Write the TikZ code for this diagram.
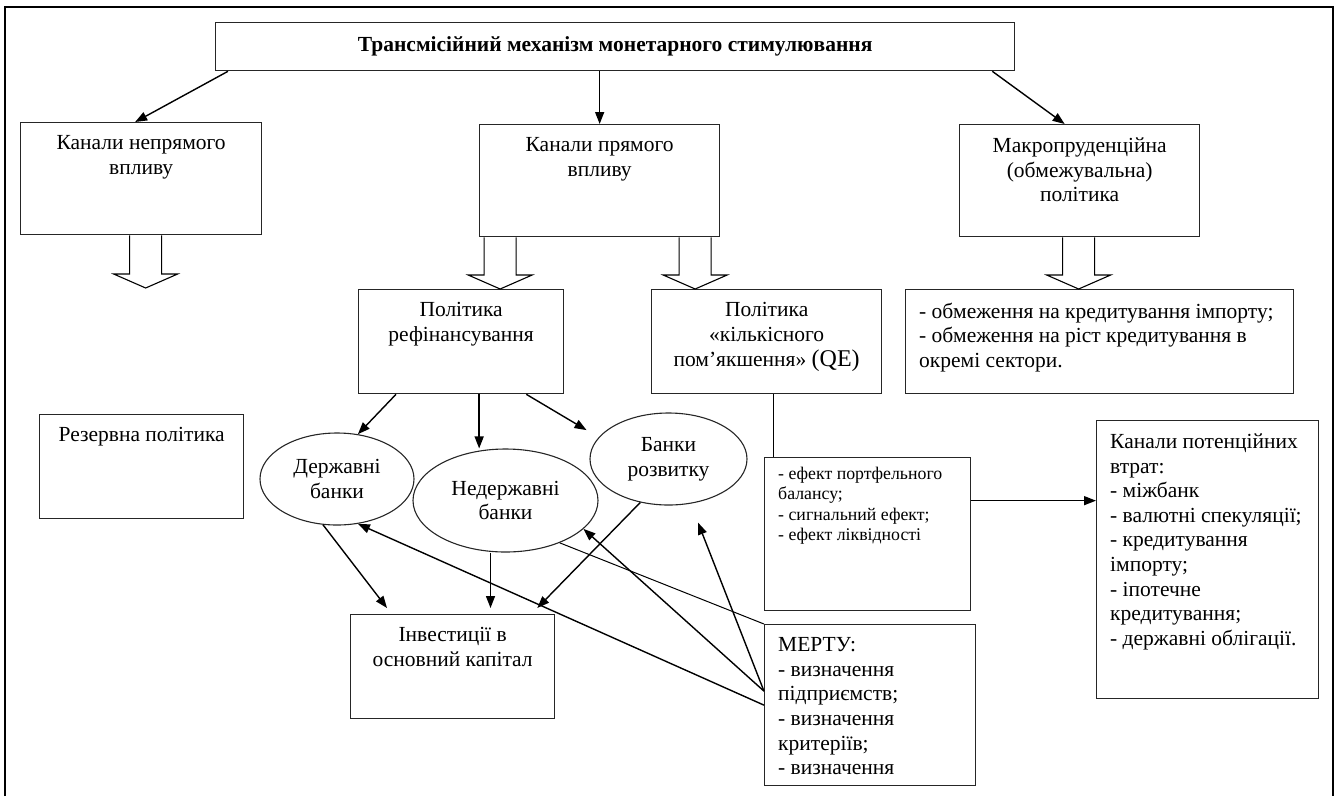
\documentclass[tikz,border=0pt]{standalone}
\usepackage{fontspec}
\setmainfont{Liberation Serif}
\usetikzlibrary{arrows.meta,shapes.geometric}

\begin{document}
\begin{tikzpicture}[x=1pt, y=1pt, >={Triangle[length=12pt, width=9pt]},
	every node/.style={font=\fontsize{21.5}{24.6}\selectfont},
	box/.style={draw=black!85, line width=1.3pt, inner sep=0pt, anchor=north west},
	bank/.style={draw=black!85, line width=1.1pt, ellipse, inner sep=0pt, align=center},
	mid/.style={label={[anchor=north, align=center, inner sep=0pt, yshift=-13.5pt]north:{#1}}},
	lft/.style={label={[anchor=north west, align=left, inner sep=0pt, xshift=14pt, yshift=-13.5pt]north west:{#1}}},
	note/.style={label={[anchor=north west, align=left, inner sep=0pt, xshift=14pt, yshift=-9.5pt, font=\fontsize{17.8}{20.5}\selectfont]north west:{#1}}},
	link/.style={->, line width=1.4pt}]
	\useasboundingbox (0,0) rectangle (1336,-796);
	\draw[line width=2.5pt] (5,-796) -- (5,-7) -- (1333,-7) -- (1333,-796);
	% boxes
	\node[box, minimum width=799pt, minimum height=48pt, font=\bfseries\fontsize{21.5}{24.6}\selectfont] (title) at (215,-22) {Трансмісійний механізм монетарного стимулювання};
	\node[box, minimum width=241pt, minimum height=112pt, mid={Канали непрямого\\впливу}] (indirect) at (20,-122) {};
	\node[box, minimum width=240pt, minimum height=112pt, mid={Канали прямого\\впливу}] (direct) at (479,-124) {};
	\node[box, minimum width=240pt, minimum height=112pt, mid={Макропруденційна\\(обмежувальна)\\політика}] (macro) at (959,-124) {};
	\node[box, minimum width=205pt, minimum height=104pt, mid={Політика\\рефінансування}] (refin) at (358,-289) {};
	\node[box, minimum width=230pt, minimum height=104pt, mid={Політика\\«кількісного\\пом’якшення» {\fontsize{24}{25}\selectfont(QE)}}] (qe) at (651,-289) {};
	\node[box, minimum width=388pt, minimum height=104pt, lft={- обмеження на кредитування імпорту;\\- обмеження на ріст кредитування в\\окремі сектори.}] (restr) at (905,-289) {};
	\node[box, minimum width=204pt, minimum height=104pt, mid={Резервна політика}] (reserve) at (39,-414) {};
	\node[box, minimum width=204pt, minimum height=104pt, mid={Інвестиції в\\основний капітал}] (invest) at (350,-614) {};
	\node[box, minimum width=206pt, minimum height=153pt, note={- ефект портфельного\\балансу;\\- сигнальний ефект;\\- ефект ліквідності}] (effects) at (764,-457) {};
	\node[box, minimum width=222pt, minimum height=278pt, lft={Канали потенційних\\втрат:\\- міжбанк\\- валютні спекуляції;\\- кредитування\\імпорту;\\- іпотечне\\кредитування;\\- державні облігації.}] (potential) at (1096,-420) {};
	\node[box, minimum width=211pt, minimum height=161pt, lft={МЕРТУ:\\- визначення\\підприємств;\\- визначення\\критеріїв;\\- визначення}] (mertu) at (764,-624) {};
	% banks
	\node[bank, minimum width=154pt, minimum height=92pt] (state) at (337,-479) {Державні\\банки};
	\node[bank, minimum width=185pt, minimum height=103pt] (nonstate) at (505.5,-500.5) {Недержавні\\банки};
	\node[bank, minimum width=157pt, minimum height=92pt] (dev) at (668.5,-459) {Банки\\розвитку};
	% block arrows
	\coordinate (gap) at (145,-288);
	\foreach \src/\dst/\dx in {indirect/gap/4.5, direct/refin.north/-99.5, direct/qe.north/95.5, macro/restr.north/-1} {
		\path ([xshift=\dx pt]\src.south) coordinate (s) (s |- \dst) coordinate (t);
		\draw[fill=white, line width=1.1pt] ([xshift=-16pt]s) -- ([shift={(-16,14)}]t) -- ([shift={(-32,14)}]t) -- (t) -- ([shift={(32,14)}]t) -- ([shift={(16,14)}]t) -- ([xshift=16pt]s);
	}
	% links
	\draw[link] ([xshift=13pt]title.south west) -- ([xshift=-6pt]indirect.north);
	\draw[link] (direct.north |- title.south) -- (direct.north);
	\draw[link] ([xshift=-23pt]title.south east) -- ([xshift=-15pt]macro.north);
	\draw[link] ([xshift=38pt]refin.south west) -- (state.65);
	\draw[link] ([xshift=18pt]refin.south) -- ([xshift=18pt]refin.south |- nonstate.north);
	\draw[link] ([xshift=-38pt]refin.south east) -- ([xshift=-20pt]dev.155);
	\draw[link] (state.253) -- ([xshift=37pt,yshift=6pt]invest.north west);
	\draw[link] ([xshift=-15pt]nonstate.south) -- ([xshift=-15pt,yshift=6pt]nonstate.south |- invest.north);
	\draw[link] (dev.237) -- ([xshift=-18pt,yshift=6pt]invest.north east);
	\draw[line width=1pt] (nonstate.-38) -- (mertu.north west);
	\draw[link] (mertu.west) -- (state.-65);
	\draw[link] ([yshift=14pt]mertu.west) -- (nonstate.-20);
	\draw[link] ([yshift=14pt]mertu.west) -- ([xshift=29.5pt,yshift=-17pt]dev.south);
	\draw[line width=1pt] ([xshift=7pt]qe.south) -- ([xshift=7pt]qe.south |- effects.north);
	\draw[link] ([yshift=33.5pt]effects.east) -- ([yshift=33.5pt]effects.east -| potential.west);
\end{tikzpicture}
\end{document}
